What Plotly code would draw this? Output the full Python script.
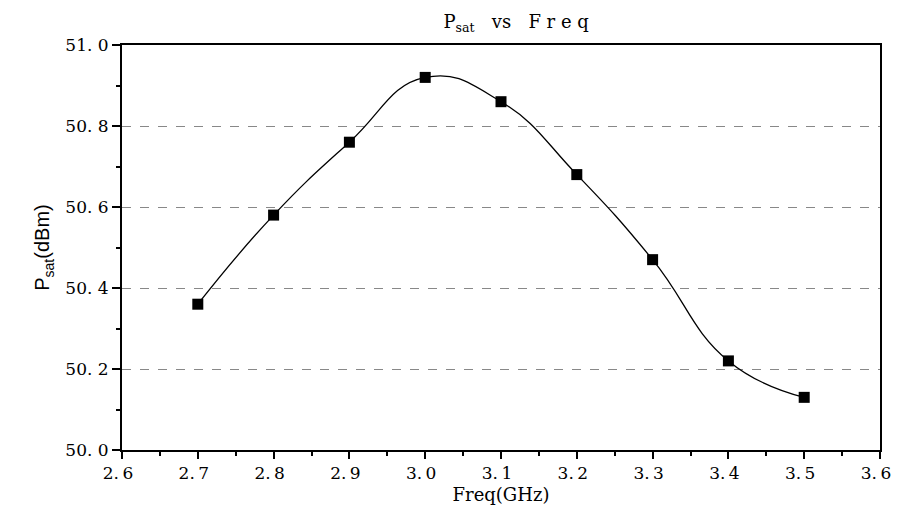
import plotly.graph_objects as go

freq = [2.7, 2.8, 2.9, 3.0, 3.1, 3.2, 3.3, 3.4, 3.5]
psat = [50.36, 50.58, 50.76, 50.92, 50.86, 50.68, 50.47, 50.22, 50.13]

x_ticks = [2.6, 2.7, 2.8, 2.9, 3.0, 3.1, 3.2, 3.3, 3.4, 3.5, 3.6]
x_labels = ["2.\u20096", "2.\u20097", "2.\u20098", "2.\u20099", "3.\u20090", "3.\u20091",
            "3.\u20092", "3.\u20093", "3.\u20094", "3.\u20095", "3.\u20096"]
y_ticks = [50.0, 50.2, 50.4, 50.6, 50.8, 51.0]
y_labels = ["50. 0", "50. 2", "50. 4", "50. 6", "50. 8", "51. 0"]

serif = "DejaVu Serif"

fig = go.Figure()
fig.add_trace(go.Scatter(
    x=freq, y=psat, mode="lines+markers",
    line=dict(color="black", width=1.3, shape="spline", smoothing=1.3),
    marker=dict(symbol="square", size=11, color="black"),
    showlegend=False,
))

fig.update_layout(
    width=884, height=497,
    margin=dict(l=114, r=12, t=37, b=55, autoexpand=False),
    paper_bgcolor="white", plot_bgcolor="white",
    title=dict(text="P<sub>sat</sub>   vs   F r e q", x=0.52, xref="paper", xanchor="center", y=0.985, yanchor="top",
               font=dict(family=serif, size=18, color="black")),
    font=dict(family=serif, color="black"),
)

fig.update_xaxes(
    range=[2.6, 3.6], tickvals=x_ticks, ticktext=x_labels,
    ticks="outside", ticklen=7, tickwidth=1.5, tickcolor="black",
    minor=dict(ticks="outside", ticklen=4, tickwidth=1.5, tickcolor="black", dtick=0.05, showgrid=False),
    showline=True, linecolor="black", linewidth=2, mirror=True,
    showgrid=False, zeroline=False, ticklabeloverflow="allow", ticklabelshift=-4,
    tickfont=dict(family=serif, size=17, color="black"),
    title=dict(text="Freq(GHz)", font=dict(family=serif, size=18, color="black"), standoff=6),
)
fig.update_yaxes(
    range=[50.0, 51.0], tickvals=y_ticks, ticktext=y_labels,
    ticks="outside", ticklen=8, tickwidth=1.5, tickcolor="black",
    minor=dict(ticks="outside", ticklen=4, tickwidth=1.5, tickcolor="black", dtick=0.1, showgrid=False),
    showline=True, linecolor="black", linewidth=2, mirror=True,
    showgrid=True, gridcolor="#888888", griddash="dash", gridwidth=1,
    zeroline=False,
    tickfont=dict(family=serif, size=17, color="black"),
    title=dict(text="P<sub>sat</sub>(dBm)", font=dict(family="Liberation Sans Narrow, Liberation Sans", size=20, color="black"), standoff=10),
)

fig.write_html("out.html")
